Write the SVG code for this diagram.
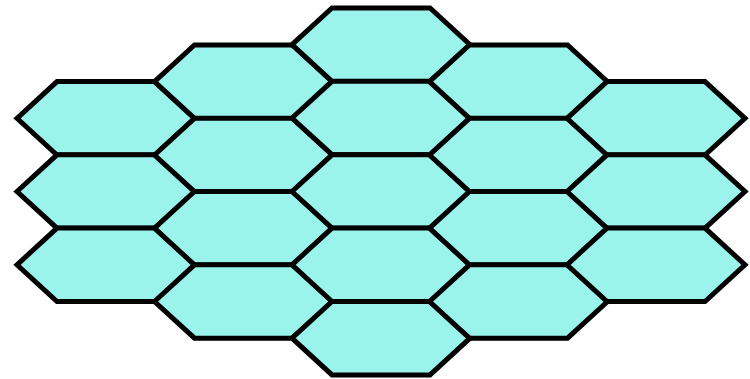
<svg xmlns="http://www.w3.org/2000/svg" xmlns:xlink="http://www.w3.org/1999/xlink" width="750" height="379" viewBox="0 0 750 379">
<style>
.hex{fill:#9AF4EC;stroke:#000;stroke-width:5;stroke-linejoin:miter}
</style>
<defs>
<polygon id="h" points="-89,0 -49,-36.7 49,-36.7 89,0 49,36.7 -49,36.7"/>
</defs>
<rect width="750" height="379" fill="#fff"/>
<g id="c0r0"><use xlink:href="#h" class="hex" x="106" y="118.3"/></g>
<g id="c0r1"><use xlink:href="#h" class="hex" x="106" y="191.5"/></g>
<g id="c0r2"><use xlink:href="#h" class="hex" x="106" y="264.8"/></g>
<g id="c1r0"><use xlink:href="#h" class="hex" x="243.5" y="81.7"/></g>
<g id="c1r1"><use xlink:href="#h" class="hex" x="243.5" y="155"/></g>
<g id="c1r2"><use xlink:href="#h" class="hex" x="243.5" y="228.2"/></g>
<g id="c1r3"><use xlink:href="#h" class="hex" x="243.5" y="301.5"/></g>
<g id="c2r0"><use xlink:href="#h" class="hex" x="381" y="44.7"/></g>
<g id="c2r1"><use xlink:href="#h" class="hex" x="381" y="118"/></g>
<g id="c2r2"><use xlink:href="#h" class="hex" x="381" y="191.5"/></g>
<g id="c2r3"><use xlink:href="#h" class="hex" x="381" y="264.8"/></g>
<g id="c2r4"><use xlink:href="#h" class="hex" x="381" y="338.2"/></g>
<g id="c3r0"><use xlink:href="#h" class="hex" x="518.5" y="81.7"/></g>
<g id="c3r1"><use xlink:href="#h" class="hex" x="518.5" y="155"/></g>
<g id="c3r2"><use xlink:href="#h" class="hex" x="518.5" y="228.2"/></g>
<g id="c3r3"><use xlink:href="#h" class="hex" x="518.5" y="301.5"/></g>
<g id="c4r0"><use xlink:href="#h" class="hex" x="656" y="118.3"/></g>
<g id="c4r1"><use xlink:href="#h" class="hex" x="656" y="191.5"/></g>
<g id="c4r2"><use xlink:href="#h" class="hex" x="656" y="264.8"/></g>
<g id="connectors"></g>
</svg>
